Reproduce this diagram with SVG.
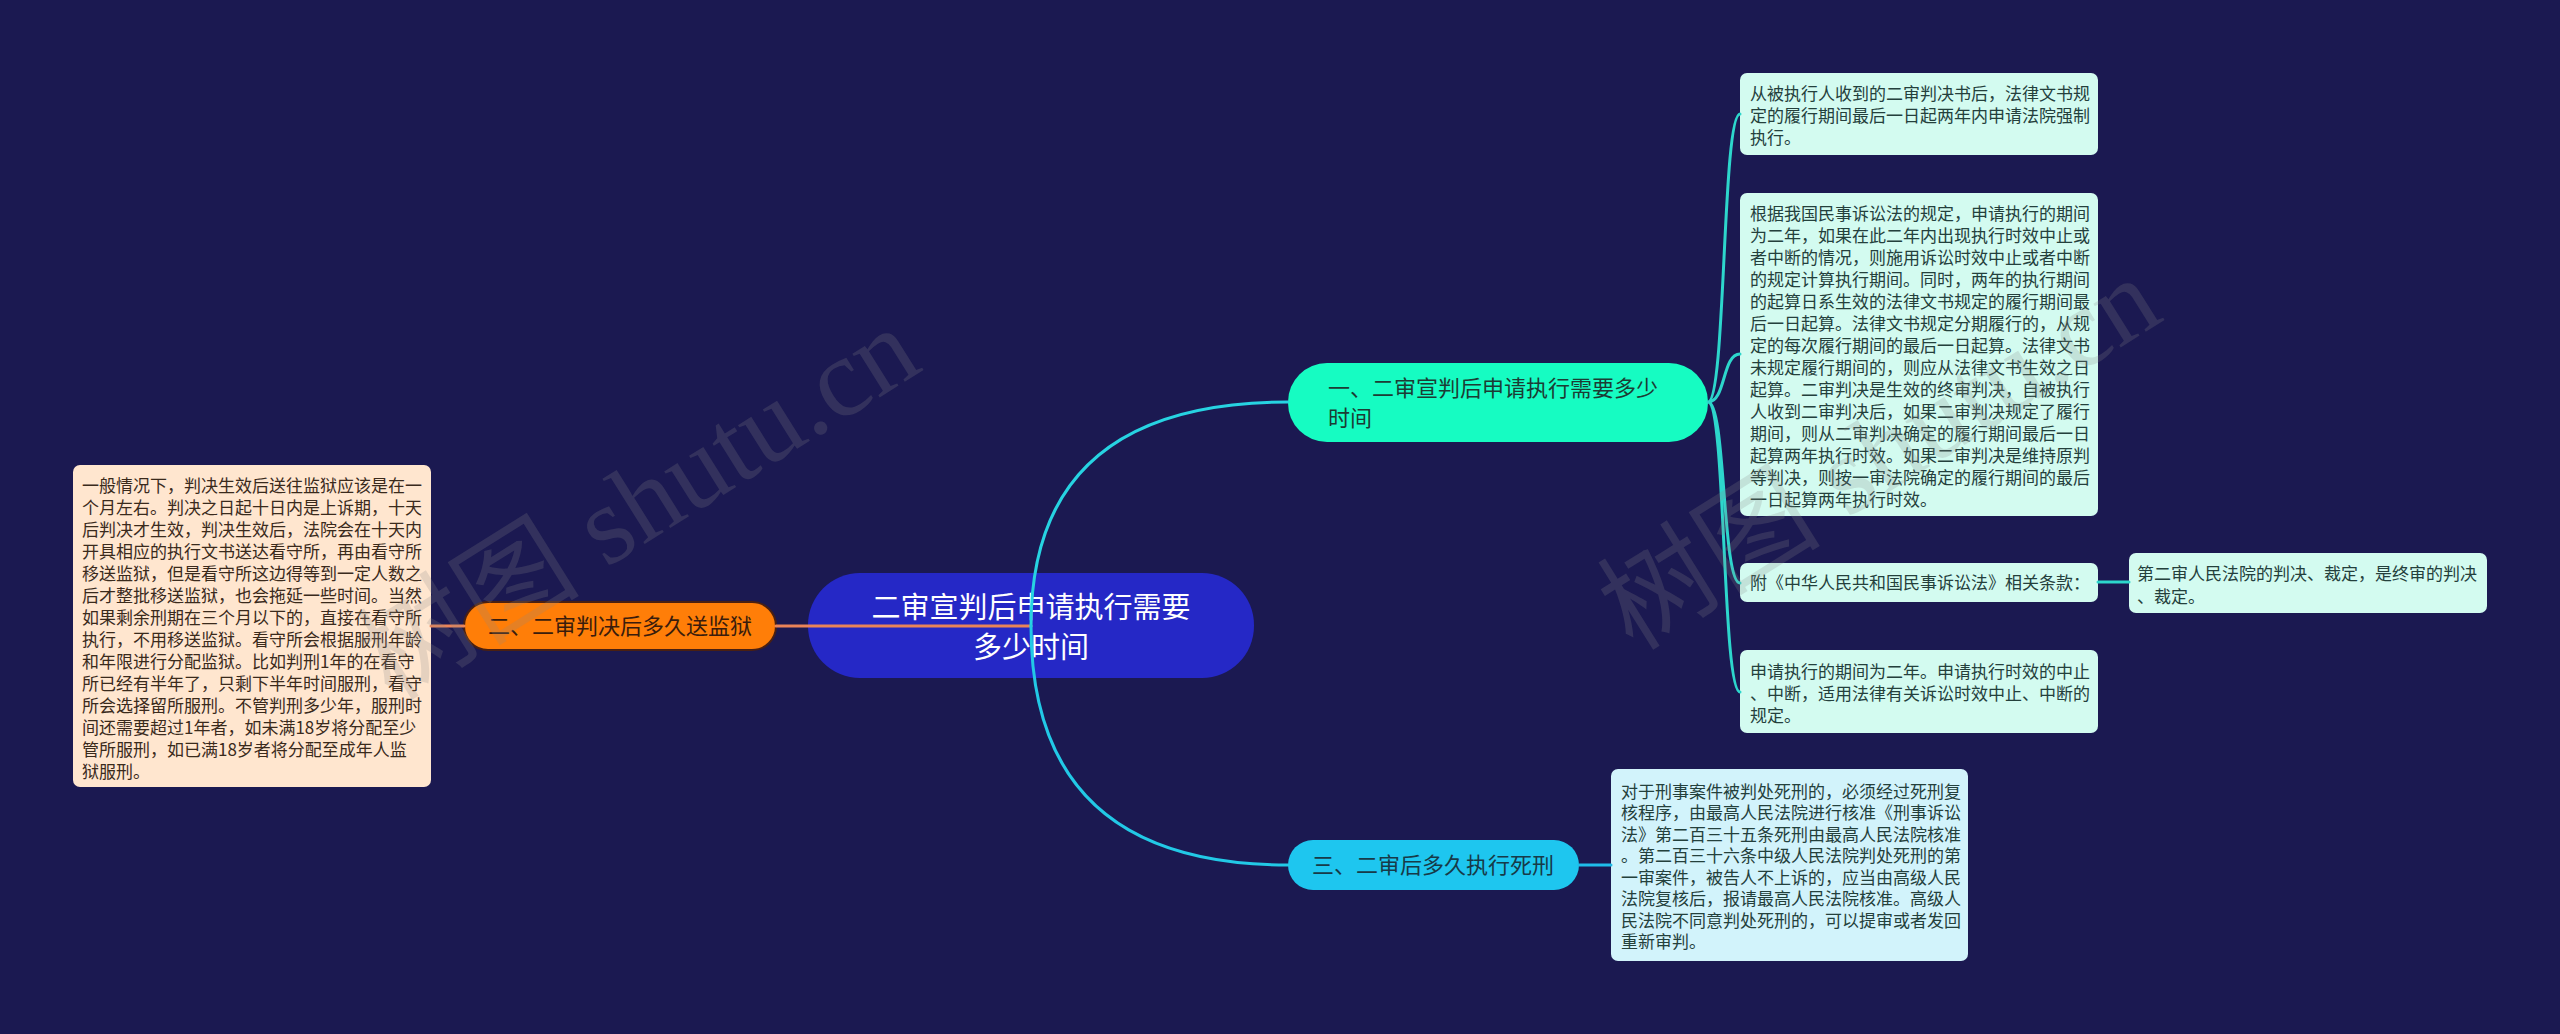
<svg xmlns="http://www.w3.org/2000/svg" width="2560" height="1034" viewBox="0 0 2560 1034">
<style>
.t{font-family:"Noto Sans CJK SC","Liberation Sans",sans-serif;}
.bx{font-size:17px;fill:#24403c;}
.bl{font-size:17px;fill:#3a2a1c;}
.nd{font-size:22px;}
.wm{font-family:"Liberation Serif","Noto Sans CJK SC",serif;font-size:112px;fill:#8a8a8a;fill-opacity:0.22;}
.c{fill:none;stroke-width:3;stroke-linecap:round;}
</style>
<rect width="2560" height="1034" fill="#1b1951"/>
<g id="node-left-text">
<rect x="73" y="465" width="358" height="322" rx="7" fill="#ffe6cf"/>
<text class="t bl">
<tspan x="82" y="491.5">一般情况下，判决生效后送往监狱应该是在一</tspan>
<tspan x="82" y="513.5">个月左右。判决之日起十日内是上诉期，十天</tspan>
<tspan x="82" y="535.5">后判决才生效，判决生效后，法院会在十天内</tspan>
<tspan x="82" y="557.5">开具相应的执行文书送达看守所，再由看守所</tspan>
<tspan x="82" y="579.5">移送监狱，但是看守所这边得等到一定人数之</tspan>
<tspan x="82" y="601.5">后才整批移送监狱，也会拖延一些时间。当然</tspan>
<tspan x="82" y="623.5">如果剩余刑期在三个月以下的，直接在看守所</tspan>
<tspan x="82" y="645.5">执行，不用移送监狱。看守所会根据服刑年龄</tspan>
<tspan x="82" y="667.5">和年限进行分配监狱。比如判刑1年的在看守</tspan>
<tspan x="82" y="689.5">所已经有半年了，只剩下半年时间服刑，看守</tspan>
<tspan x="82" y="711.5">所会选择留所服刑。不管判刑多少年，服刑时</tspan>
<tspan x="82" y="733.5">间还需要超过1年者，如未满18岁将分配至少</tspan>
<tspan x="82" y="755.5">管所服刑，如已满18岁者将分配至成年人监</tspan>
<tspan x="82" y="777.5">狱服刑。</tspan>
</text>
</g>
<g id="node-2">
<rect x="464" y="602" width="312" height="48" rx="24" fill="#ff7e08" stroke="#4a2012" stroke-width="2"/>
<text class="t nd" x="620" y="634" text-anchor="middle" fill="#3a1c0c">二、二审判决后多久送监狱</text>
</g>
<g id="root">
<rect x="808" y="573" width="446" height="105" rx="52" fill="#2528c6"/>
<text class="t" font-size="29" fill="#ffffff" text-anchor="middle"><tspan x="1031" y="618">二审宣判后申请执行需要</tspan><tspan x="1031" y="658">多少时间</tspan></text>
</g>
<g id="node-1">
<rect x="1288" y="363" width="420" height="79" rx="39" fill="#16fcc2"/>
<text class="t nd" fill="#1c3c34"><tspan x="1328" y="396">一、二审宣判后申请执行需要多少</tspan><tspan x="1328" y="426">时间</tspan></text>
</g>
<g id="node-3">
<rect x="1288" y="840" width="291" height="50" rx="25" fill="#1ec6ef"/>
<text class="t nd" x="1433" y="873" text-anchor="middle" fill="#173a48">三、二审后多久执行死刑</text>
</g>
<g id="box-1">
<rect x="1740" y="73" width="358" height="82" rx="7" fill="#d3fbf0"/>
<text class="t bx"><tspan x="1750" y="99.5">从被执行人收到的二审判决书后，法律文书规</tspan><tspan x="1750" y="121.5">定的履行期间最后一日起两年内申请法院强制</tspan><tspan x="1750" y="143.5">执行。</tspan></text>
</g>
<g id="box-2">
<rect x="1740" y="193" width="358" height="323" rx="7" fill="#d3fbf0"/>
<text class="t bx">
<tspan x="1750" y="219.5">根据我国民事诉讼法的规定，申请执行的期间</tspan>
<tspan x="1750" y="241.5">为二年，如果在此二年内出现执行时效中止或</tspan>
<tspan x="1750" y="263.5">者中断的情况，则施用诉讼时效中止或者中断</tspan>
<tspan x="1750" y="285.5">的规定计算执行期间。同时，两年的执行期间</tspan>
<tspan x="1750" y="307.5">的起算日系生效的法律文书规定的履行期间最</tspan>
<tspan x="1750" y="329.5">后一日起算。法律文书规定分期履行的，从规</tspan>
<tspan x="1750" y="351.5">定的每次履行期间的最后一日起算。法律文书</tspan>
<tspan x="1750" y="373.5">未规定履行期间的，则应从法律文书生效之日</tspan>
<tspan x="1750" y="395.5">起算。二审判决是生效的终审判决，自被执行</tspan>
<tspan x="1750" y="417.5">人收到二审判决后，如果二审判决规定了履行</tspan>
<tspan x="1750" y="439.5">期间，则从二审判决确定的履行期间最后一日</tspan>
<tspan x="1750" y="461.5">起算两年执行时效。如果二审判决是维持原判</tspan>
<tspan x="1750" y="483.5">等判决，则按一审法院确定的履行期间的最后</tspan>
<tspan x="1750" y="505.5">一日起算两年执行时效。</tspan>
</text>
</g>
<g id="box-3">
<rect x="1740" y="563" width="358" height="39" rx="7" fill="#d3fbf0"/>
<text class="t bx" x="1750" y="589">附《中华人民共和国民事诉讼法》相关条款：</text>
</g>
<g id="box-4">
<rect x="1740" y="650" width="358" height="83" rx="7" fill="#d3fbf0"/>
<text class="t bx"><tspan x="1750" y="677.5">申请执行的期间为二年。申请执行时效的中止</tspan><tspan x="1750" y="699.5">、中断，适用法律有关诉讼时效中止、中断的</tspan><tspan x="1750" y="721.5">规定。</tspan></text>
</g>
<g id="box-5">
<rect x="2129" y="553" width="358" height="60" rx="7" fill="#d3fbf0"/>
<text class="t bx"><tspan x="2137" y="579.5">第二审人民法院的判决、裁定，是终审的判决</tspan><tspan x="2137" y="602.5">、裁定。</tspan></text>
</g>
<g id="box-6">
<rect x="1611" y="769" width="357" height="192" rx="7" fill="#d2f3fb"/>
<text class="t bx">
<tspan x="1621" y="797.5">对于刑事案件被判处死刑的，必须经过死刑复</tspan>
<tspan x="1621" y="819">核程序，由最高人民法院进行核准《刑事诉讼</tspan>
<tspan x="1621" y="840.5">法》第二百三十五条死刑由最高人民法院核准</tspan>
<tspan x="1621" y="862">。第二百三十六条中级人民法院判处死刑的第</tspan>
<tspan x="1621" y="883.5">一审案件，被告人不上诉的，应当由高级人民</tspan>
<tspan x="1621" y="905">法院复核后，报请最高人民法院核准。高级人</tspan>
<tspan x="1621" y="926.5">民法院不同意判处死刑的，可以提审或者发回</tspan>
<tspan x="1621" y="948">重新审判。</tspan>
</text>
</g>
<g id="connectors">
<path class="c" stroke="#ea8458" d="M1031,626 H776 M464,626 H431"/>
<path class="c" stroke="#27d3e2" d="M1031,626 Q1031,402 1288,402"/>
<path class="c" stroke="#22c9e6" d="M1031,626 Q1031,865 1288,865"/>
<path class="c" stroke="#2dd6cc" d="M1708,402 C1726,402 1722,114 1740,114 M1708,402 C1726,402 1722,354 1740,354 M1708,402 C1726,402 1722,583 1740,583 M1708,402 C1726,402 1722,692 1740,692 M2098,582 H2129"/>
<path class="c" stroke="#1fbce9" d="M1579,865 H1611"/>
</g>
<g id="watermark">
<text class="wm" transform="translate(392,702) rotate(-32)">树图 shutu.cn</text>
<text class="wm" transform="translate(1633,652) rotate(-32)">树图 shutu.cn</text>
</g>
</svg>
